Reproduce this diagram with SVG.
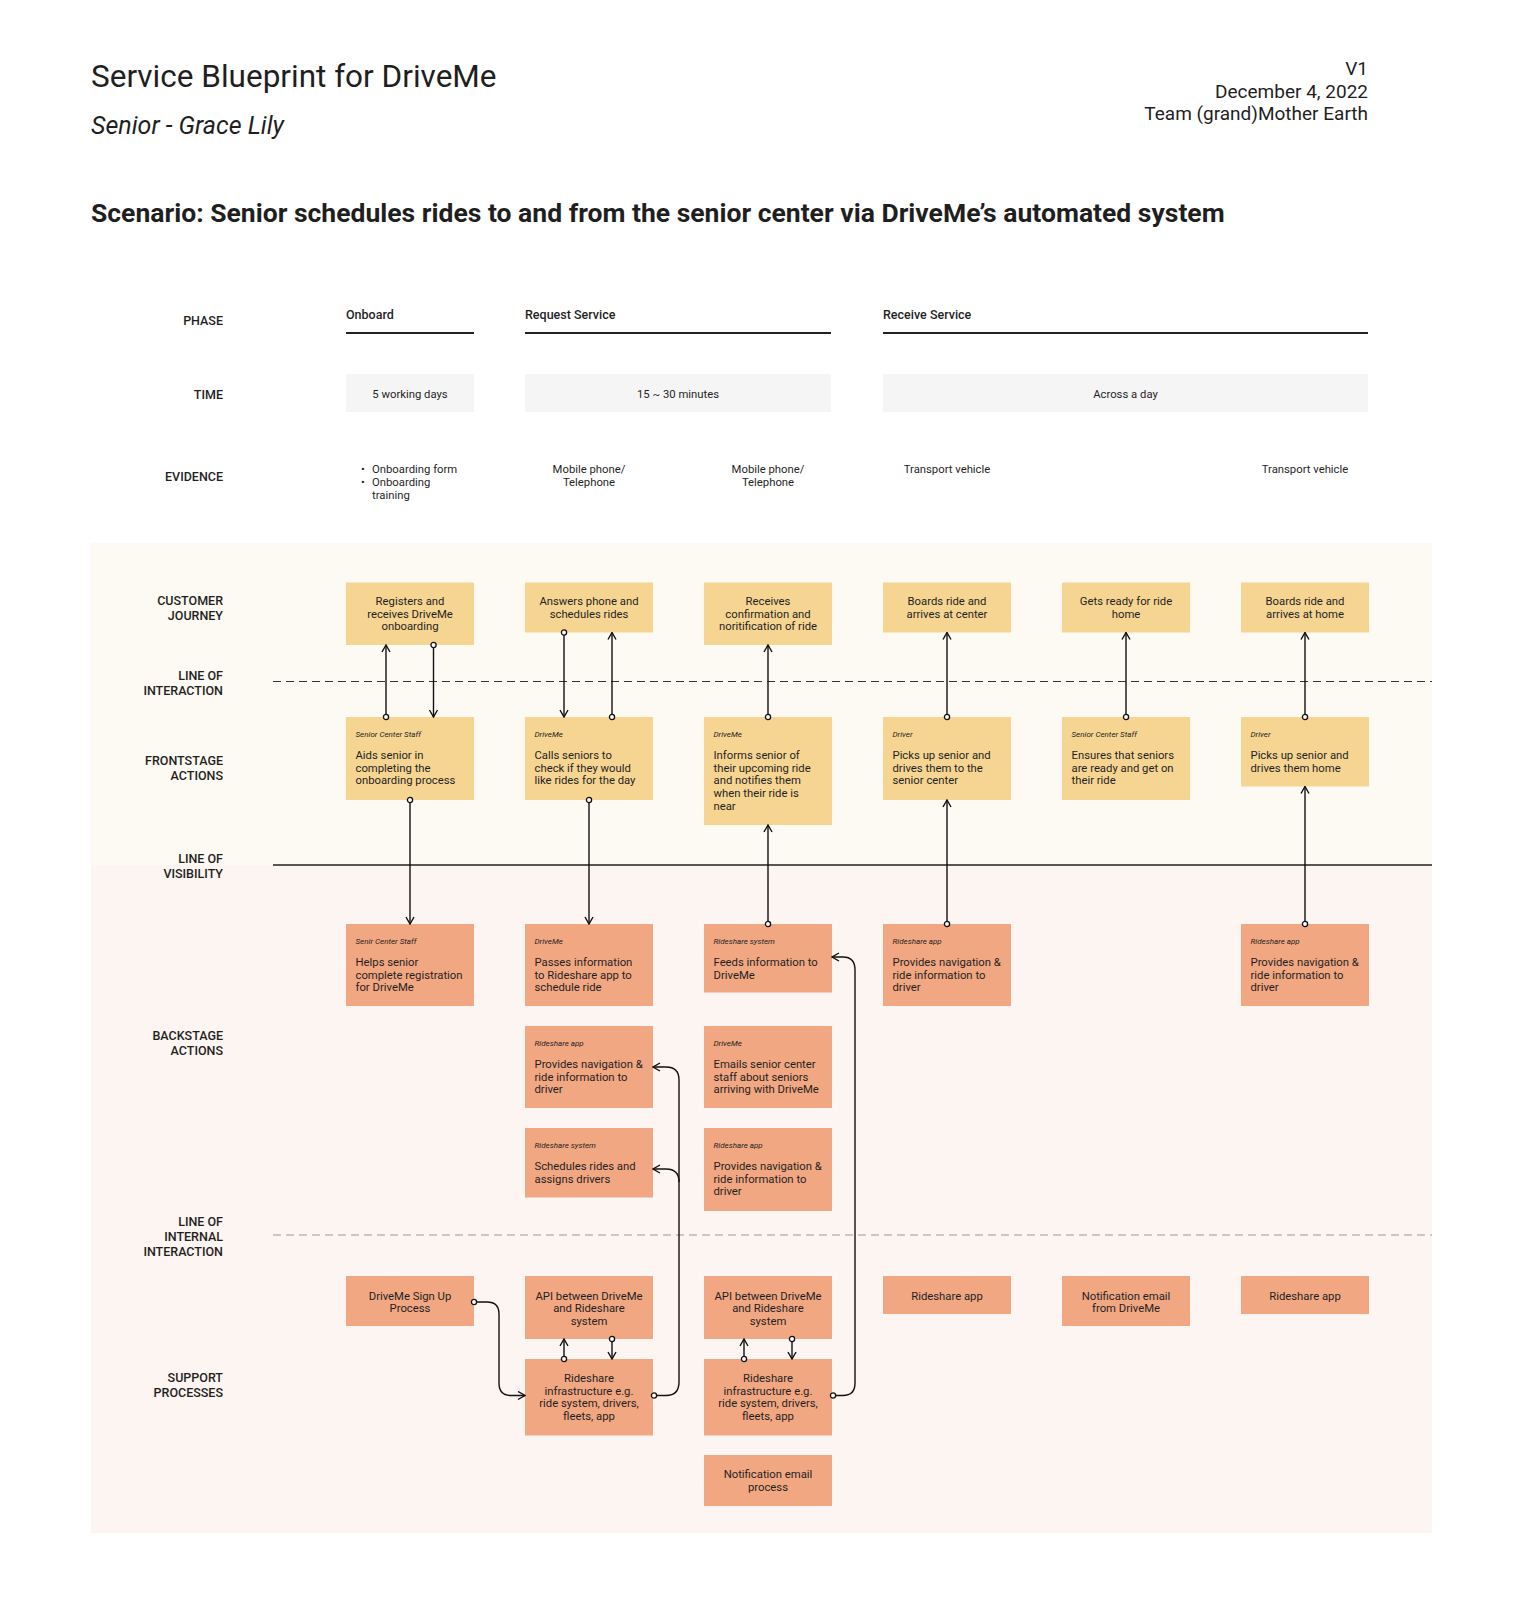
<svg xmlns="http://www.w3.org/2000/svg" width="1524" height="1600" viewBox="0 0 1524 1600">
<style>
text{font-family:Roboto,"Liberation Sans",sans-serif;fill:#1f1f1f}
.lbl{font-size:12.5px;font-weight:500;text-anchor:end}
.ph{font-size:12.5px;font-weight:500}
.t{font-size:11.3px}
.c{text-anchor:middle}
.role{font-size:8px;font-style:italic}
.y{fill:#f6d592}
.s{fill:#f2a783}
.tm{fill:#f5f5f5}
.cn{fill:none;stroke:#111;stroke-width:1.4}
</style>
<defs>
<marker id="arr" viewBox="0 0 10 10" refX="9" refY="5" markerWidth="10" markerHeight="10" markerUnits="userSpaceOnUse" orient="auto">
<path d="M2,1 L9,5 L2,9" fill="none" stroke="#111" stroke-width="1.4"/>
</marker>
<marker id="dot" viewBox="0 0 8 8" refX="4" refY="4" markerWidth="8" markerHeight="8" markerUnits="userSpaceOnUse">
<circle cx="4" cy="4" r="2.6" fill="#fff" stroke="#111" stroke-width="1.3"/>
</marker>
</defs>
<rect width="1524" height="1600" fill="#fff"/>

<g id="header">
<text x="91" y="87" style="font-size:31.5px">Service Blueprint for DriveMe</text>
<text x="91" y="134" style="font-size:25px;font-style:italic">Senior - Grace Lily</text>
<text x="1368" y="75" style="font-size:19px;text-anchor:end">V1</text>
<text x="1368" y="98" style="font-size:19px;text-anchor:end">December 4, 2022</text>
<text x="1368" y="120" style="font-size:19px;text-anchor:end">Team (grand)Mother Earth</text>
<text x="91" y="222" style="font-size:26.5px;font-weight:700">Scenario: Senior schedules rides to and from the senior center via DriveMe’s automated system</text>
</g>

<g id="backgrounds">
<rect x="91" y="543" width="1341" height="322" fill="#fdfaf3"/>
<rect x="91" y="865" width="1341" height="668" fill="#fdf5f1"/>
</g>

<g id="row-labels">
<text class="lbl" x="223" y="324.5">PHASE</text>
<text class="lbl" x="223" y="398.5">TIME</text>
<text class="lbl" x="223" y="480.5">EVIDENCE</text>
<text class="lbl" x="223" y="604.5">CUSTOMER</text>
<text class="lbl" x="223" y="619.5">JOURNEY</text>
<text class="lbl" x="223" y="679.5">LINE OF</text>
<text class="lbl" x="223" y="695">INTERACTION</text>
<text class="lbl" x="223" y="764.5">FRONTSTAGE</text>
<text class="lbl" x="223" y="779.5">ACTIONS</text>
<text class="lbl" x="223" y="862.5">LINE OF</text>
<text class="lbl" x="223" y="877.5">VISIBILITY</text>
<text class="lbl" x="223" y="1039.5">BACKSTAGE</text>
<text class="lbl" x="223" y="1055">ACTIONS</text>
<text class="lbl" x="223" y="1225.5">LINE OF</text>
<text class="lbl" x="223" y="1240.5">INTERNAL</text>
<text class="lbl" x="223" y="1256">INTERACTION</text>
<text class="lbl" x="223" y="1381.5">SUPPORT</text>
<text class="lbl" x="223" y="1396.5">PROCESSES</text>
</g>

<g id="lines">
<line x1="273" y1="681.5" x2="1432" y2="681.5" stroke="#333" stroke-width="1" stroke-dasharray="8 5"/>
<line x1="273" y1="865" x2="1432" y2="865" stroke="#222" stroke-width="1.5"/>
<line x1="273" y1="1235" x2="1432" y2="1235" stroke="#999" stroke-width="1" stroke-dasharray="8 5"/>
</g>

<g id="phases">
<text class="ph" x="346" y="318.5">Onboard</text>
<line x1="346" y1="333" x2="474" y2="333" stroke="#222" stroke-width="2"/>
<text class="ph" x="525" y="318.5">Request Service</text>
<line x1="525" y1="333" x2="831" y2="333" stroke="#222" stroke-width="2"/>
<text class="ph" x="883" y="318.5">Receive Service</text>
<line x1="883" y1="333" x2="1368" y2="333" stroke="#222" stroke-width="2"/>
</g>

<g id="time">
<rect class="tm" x="346" y="374" width="128" height="38"/>
<text class="t c" x="410" y="398">5 working days</text>
<rect class="tm" x="525" y="374" width="306" height="38"/>
<text class="t c" x="678" y="398">15 ~ 30 minutes</text>
<rect class="tm" x="883" y="374" width="485" height="38"/>
<text class="t c" x="1125.5" y="398">Across a day</text>
</g>

<g id="evidence">
<text class="t" x="361" y="473">•</text>
<text class="t" x="372" y="473">Onboarding form</text>
<text class="t" x="361" y="486">•</text>
<text class="t" x="372" y="486">Onboarding</text>
<text class="t" x="372" y="499">training</text>
<text class="t c" x="589" y="473">Mobile phone/</text>
<text class="t c" x="589" y="486">Telephone</text>
<text class="t c" x="768" y="473">Mobile phone/</text>
<text class="t c" x="768" y="486">Telephone</text>
<text class="t c" x="947" y="473">Transport vehicle</text>
<text class="t c" x="1305" y="473">Transport vehicle</text>
</g>

<!-- Customer journey -->
<g id="cj1"><rect class="y" x="346" y="582.5" width="128" height="62.5"/>
<text class="t c" x="410" y="605">Registers and</text><text class="t c" x="410" y="617.7">receives DriveMe</text><text class="t c" x="410" y="630.4">onboarding</text></g>
<g id="cj2"><rect class="y" x="525" y="582.5" width="128" height="50"/>
<text class="t c" x="589" y="605">Answers phone and</text><text class="t c" x="589" y="617.7">schedules rides</text></g>
<g id="cj3"><rect class="y" x="704" y="582.5" width="128" height="62.5"/>
<text class="t c" x="768" y="605">Receives</text><text class="t c" x="768" y="617.7">confirmation and</text><text class="t c" x="768" y="630.4">noritification of ride</text></g>
<g id="cj4"><rect class="y" x="883" y="582.5" width="128" height="50"/>
<text class="t c" x="947" y="605">Boards ride and</text><text class="t c" x="947" y="617.7">arrives at center</text></g>
<g id="cj5"><rect class="y" x="1062" y="582.5" width="128" height="50"/>
<text class="t c" x="1126" y="605">Gets ready for ride</text><text class="t c" x="1126" y="617.7">home</text></g>
<g id="cj6"><rect class="y" x="1241" y="582.5" width="128" height="50"/>
<text class="t c" x="1305" y="605">Boards ride and</text><text class="t c" x="1305" y="617.7">arrives at home</text></g>

<!-- Frontstage -->
<g id="fs1"><rect class="y" x="346" y="717" width="128" height="83"/>
<text class="role" x="355.5" y="736.5">Senior Center Staff</text>
<text class="t" x="355.5" y="759">Aids senior in</text><text class="t" x="355.5" y="771.7">completing the</text><text class="t" x="355.5" y="784.4">onboarding process</text></g>
<g id="fs2"><rect class="y" x="525" y="717" width="128" height="83"/>
<text class="role" x="534.5" y="736.5">DriveMe</text>
<text class="t" x="534.5" y="759">Calls seniors to</text><text class="t" x="534.5" y="771.7">check if they would</text><text class="t" x="534.5" y="784.4">like rides for the day</text></g>
<g id="fs3"><rect class="y" x="704" y="717" width="128" height="108"/>
<text class="role" x="713.5" y="736.5">DriveMe</text>
<text class="t" x="713.5" y="759">Informs senior of</text><text class="t" x="713.5" y="771.7">their upcoming ride</text><text class="t" x="713.5" y="784.4">and notifies them</text><text class="t" x="713.5" y="797.1">when their ride is</text><text class="t" x="713.5" y="809.8">near</text></g>
<g id="fs4"><rect class="y" x="883" y="717" width="128" height="83"/>
<text class="role" x="892.5" y="736.5">Driver</text>
<text class="t" x="892.5" y="759">Picks up senior and</text><text class="t" x="892.5" y="771.7">drives them to the</text><text class="t" x="892.5" y="784.4">senior center</text></g>
<g id="fs5"><rect class="y" x="1062" y="717" width="128" height="83"/>
<text class="role" x="1071.5" y="736.5">Senior Center Staff</text>
<text class="t" x="1071.5" y="759">Ensures that seniors</text><text class="t" x="1071.5" y="771.7">are ready and get on</text><text class="t" x="1071.5" y="784.4">their ride</text></g>
<g id="fs6"><rect class="y" x="1241" y="717" width="128" height="69.5"/>
<text class="role" x="1250.5" y="736.5">Driver</text>
<text class="t" x="1250.5" y="759">Picks up senior and</text><text class="t" x="1250.5" y="771.7">drives them home</text></g>

<!-- Backstage row 1 -->
<g id="bs1"><rect class="s" x="346" y="924" width="128" height="82"/>
<text class="role" x="355.5" y="943.5">Senir Center Staff</text>
<text class="t" x="355.5" y="966">Helps senior</text><text class="t" x="355.5" y="978.7">complete registration</text><text class="t" x="355.5" y="991.4">for DriveMe</text></g>
<g id="bs2"><rect class="s" x="525" y="924" width="128" height="82"/>
<text class="role" x="534.5" y="943.5">DriveMe</text>
<text class="t" x="534.5" y="966">Passes information</text><text class="t" x="534.5" y="978.7">to Rideshare app to</text><text class="t" x="534.5" y="991.4">schedule ride</text></g>
<g id="bs3"><rect class="s" x="704" y="924" width="128" height="68.5"/>
<text class="role" x="713.5" y="943.5">Rideshare system</text>
<text class="t" x="713.5" y="966">Feeds information to</text><text class="t" x="713.5" y="978.7">DriveMe</text></g>
<g id="bs4"><rect class="s" x="883" y="924" width="128" height="82"/>
<text class="role" x="892.5" y="943.5">Rideshare app</text>
<text class="t" x="892.5" y="966">Provides navigation &amp;</text><text class="t" x="892.5" y="978.7">ride information to</text><text class="t" x="892.5" y="991.4">driver</text></g>
<g id="bs6"><rect class="s" x="1241" y="924" width="128" height="82"/>
<text class="role" x="1250.5" y="943.5">Rideshare app</text>
<text class="t" x="1250.5" y="966">Provides navigation &amp;</text><text class="t" x="1250.5" y="978.7">ride information to</text><text class="t" x="1250.5" y="991.4">driver</text></g>

<!-- Backstage row 2 -->
<g id="bs2b"><rect class="s" x="525" y="1026" width="128" height="82"/>
<text class="role" x="534.5" y="1045.5">Rideshare app</text>
<text class="t" x="534.5" y="1068">Provides navigation &amp;</text><text class="t" x="534.5" y="1080.7">ride information to</text><text class="t" x="534.5" y="1093.4">driver</text></g>
<g id="bs3b"><rect class="s" x="704" y="1026" width="128" height="82"/>
<text class="role" x="713.5" y="1045.5">DriveMe</text>
<text class="t" x="713.5" y="1068">Emails senior center</text><text class="t" x="713.5" y="1080.7">staff about seniors</text><text class="t" x="713.5" y="1093.4">arriving with DriveMe</text></g>

<!-- Backstage row 3 -->
<g id="bs2c"><rect class="s" x="525" y="1128" width="128" height="69.5"/>
<text class="role" x="534.5" y="1147.5">Rideshare system</text>
<text class="t" x="534.5" y="1170">Schedules rides and</text><text class="t" x="534.5" y="1182.7">assigns drivers</text></g>
<g id="bs3c"><rect class="s" x="704" y="1128" width="128" height="83"/>
<text class="role" x="713.5" y="1147.5">Rideshare app</text>
<text class="t" x="713.5" y="1170">Provides navigation &amp;</text><text class="t" x="713.5" y="1182.7">ride information to</text><text class="t" x="713.5" y="1195.4">driver</text></g>

<!-- Support -->
<g id="sp1"><rect class="s" x="346" y="1276" width="128" height="50"/>
<text class="t c" x="410" y="1299.5">DriveMe Sign Up</text><text class="t c" x="410" y="1312.2">Process</text></g>
<g id="sp2"><rect class="s" x="525" y="1276" width="128" height="63"/>
<text class="t c" x="589" y="1299.5">API between DriveMe</text><text class="t c" x="589" y="1312.2">and Rideshare</text><text class="t c" x="589" y="1324.9">system</text></g>
<g id="sp3"><rect class="s" x="704" y="1276" width="128" height="63"/>
<text class="t c" x="768" y="1299.5">API between DriveMe</text><text class="t c" x="768" y="1312.2">and Rideshare</text><text class="t c" x="768" y="1324.9">system</text></g>
<g id="sp4"><rect class="s" x="883" y="1276" width="128" height="38"/>
<text class="t c" x="947" y="1299.5">Rideshare app</text></g>
<g id="sp5"><rect class="s" x="1062" y="1276" width="128" height="50"/>
<text class="t c" x="1126" y="1299.5">Notification email</text><text class="t c" x="1126" y="1312.2">from DriveMe</text></g>
<g id="sp6"><rect class="s" x="1241" y="1276" width="128" height="38"/>
<text class="t c" x="1305" y="1299.5">Rideshare app</text></g>
<g id="sp2b"><rect class="s" x="525" y="1359" width="128" height="76.5"/>
<text class="t c" x="589" y="1382">Rideshare</text><text class="t c" x="589" y="1394.7">infrastructure e.g.</text><text class="t c" x="589" y="1407.4">ride system, drivers,</text><text class="t c" x="589" y="1420.1">fleets, app</text></g>
<g id="sp3b"><rect class="s" x="704" y="1359" width="128" height="76.5"/>
<text class="t c" x="768" y="1382">Rideshare</text><text class="t c" x="768" y="1394.7">infrastructure e.g.</text><text class="t c" x="768" y="1407.4">ride system, drivers,</text><text class="t c" x="768" y="1420.1">fleets, app</text></g>
<g id="sp3c"><rect class="s" x="704" y="1455" width="128" height="51"/>
<text class="t c" x="768" y="1478">Notification email</text><text class="t c" x="768" y="1490.7">process</text></g>

<g id="connectors" class="cn">
<path class="cn" d="M386,717 L386,645" marker-start="url(#dot)" marker-end="url(#arr)"/>
<path class="cn" d="M433.5,645 L433.5,717" marker-start="url(#dot)" marker-end="url(#arr)"/>
<path class="cn" d="M410,800 L410,924" marker-start="url(#dot)" marker-end="url(#arr)"/>
<path class="cn" d="M564,632.5 L564,717" marker-start="url(#dot)" marker-end="url(#arr)"/>
<path class="cn" d="M612,717 L612,632.5" marker-start="url(#dot)" marker-end="url(#arr)"/>
<path class="cn" d="M589,800 L589,924" marker-start="url(#dot)" marker-end="url(#arr)"/>
<path class="cn" d="M768,717 L768,645" marker-start="url(#dot)" marker-end="url(#arr)"/>
<path class="cn" d="M768,924 L768,825" marker-start="url(#dot)" marker-end="url(#arr)"/>
<path class="cn" d="M947,717 L947,632.5" marker-start="url(#dot)" marker-end="url(#arr)"/>
<path class="cn" d="M947,924 L947,800" marker-start="url(#dot)" marker-end="url(#arr)"/>
<path class="cn" d="M1126,717 L1126,632.5" marker-start="url(#dot)" marker-end="url(#arr)"/>
<path class="cn" d="M1305,717 L1305,632.5" marker-start="url(#dot)" marker-end="url(#arr)"/>
<path class="cn" d="M1305,924 L1305,786.5" marker-start="url(#dot)" marker-end="url(#arr)"/>
<path class="cn" d="M564,1359 L564,1339" marker-start="url(#dot)" marker-end="url(#arr)"/>
<path class="cn" d="M612,1339 L612,1359" marker-start="url(#dot)" marker-end="url(#arr)"/>
<path class="cn" d="M744,1359 L744,1339" marker-start="url(#dot)" marker-end="url(#arr)"/>
<path class="cn" d="M792,1339 L792,1359" marker-start="url(#dot)" marker-end="url(#arr)"/>
<path class="cn" d="M474,1302 L487,1302 Q499,1302 499,1314 L499,1383 Q499,1395.5 511,1395.5 L525,1395.5" marker-start="url(#dot)" marker-end="url(#arr)"/>
<path class="cn" d="M654,1395.5 L666,1395.5 Q679,1395.5 679,1382 L679,1080 Q679,1067 666,1067 L653,1067" marker-start="url(#dot)" marker-end="url(#arr)"/>
<path class="cn" d="M679,1182 Q679,1169 666,1169 L653,1169" marker-end="url(#arr)"/>
<path class="cn" d="M833,1395.5 L843,1395.5 Q855,1395.5 855,1383 L855,970 Q855,957 843,957 L832,957" marker-start="url(#dot)" marker-end="url(#arr)"/>
</g>
</svg>
